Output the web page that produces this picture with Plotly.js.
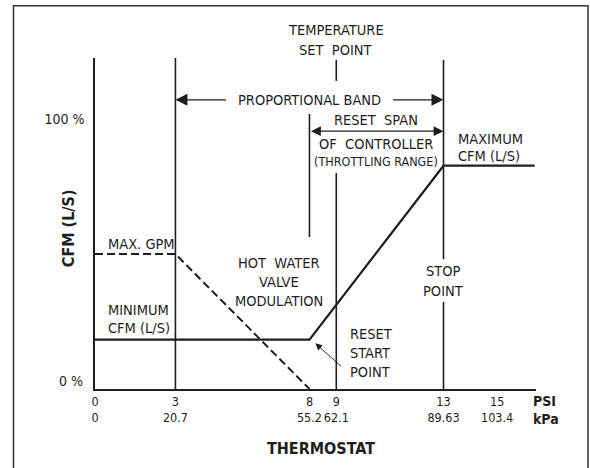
<!DOCTYPE html>
<html>
<head>
<meta charset="utf-8">
<script src="https://cdn.plot.ly/plotly-3.0.1.min.js"></script>
<style>html,body{margin:0;padding:0;background:#fff;}#chart{width:590px;height:468px;}</style>
</head>
<body>
<div id="chart"></div>
<script>
// ---- data (PSI on x, % CFM on y) ----
const psiTicks = [0, 3, 8, 9, 13, 15];
const kpaTicks = ['0', '20.7', '55.2', '62.1', '89.63', '103.4'];
const yTicks = [100];
const yTickText = ['100 %'];

// airflow (CFM) schedule
const cfmX = [0, 8, 13, 16.4];
const cfmY = [18.3, 18.3, 82.7, 82.7];
// hot water valve (GPM) schedule
const gpmX = [0, 3, 8];
const gpmY = [50, 50, 0];

// reference lines
const line3X = [3, 3];       const line3Y = [0, 122.6];
const line13X = [13, 13, null, 13, 13]; const line13Y = [0, 32.3, null, 48.1, 121.9];
const line9X = [9, 9, null, 9, 9];      const line9Y = [0, 80, null, 114.1, 121.9];
const line8X = [8, 8];       const line8Y = [56.3, 101.9];

// band limits
const propBand = [3, 13];
const resetSpan = [8, 13];

const INK = '#1e1e1e';
const FONT = '"DejaVu Sans Condensed", "Liberation Sans", Arial, sans-serif';
const XMAX = 16.45, YMAX = 122.6;

const traces = [
  {x: line3X, y: line3Y, mode: 'lines', line: {color: INK, width: 1.6}, hoverinfo: 'skip'},
  {x: line13X, y: line13Y, mode: 'lines', line: {color: INK, width: 1.6}, hoverinfo: 'skip'},
  {x: line9X, y: line9Y, mode: 'lines', line: {color: INK, width: 1.6}, hoverinfo: 'skip'},
  {x: line8X, y: line8Y, mode: 'lines', line: {color: INK, width: 1.6}, hoverinfo: 'skip'},
  {x: gpmX, y: gpmY, mode: 'lines', name: 'GPM', line: {color: INK, width: 2, dash: '8px,4px'}},
  {x: cfmX, y: cfmY, mode: 'lines', name: 'CFM', line: {color: INK, width: 2.2}}
];

function txt(text, x, y, opts) {
  return Object.assign({text: text, x: x, y: y, xref: 'x', yref: 'y', showarrow: false,
    xanchor: 'center', yanchor: 'middle', font: {family: FONT, size: 14.5, color: INK}}, opts || {});
}
const NB = '\u00a0';
const bold = {family: FONT, size: 16, color: INK, weight: 'bold'};

const annotations = [
  txt('TEMPERATURE', 9 / XMAX, 1.0846, {xref: 'paper', yref: 'paper'}),
  txt('SET' + NB + ' POINT', 9 / XMAX, 1.0242, {xref: 'paper', yref: 'paper'}),
  txt('PROPORTIONAL BAND', (propBand[0] + propBand[1]) / 2, 107.1),
  txt('RESET' + NB + ' SPAN', 10.5, 99.6),
  txt('OF' + NB + ' CONTROLLER', 10.5, 90.7),
  txt('(THROTTLING RANGE)', 10.5, 84.2, {font: {family: FONT, size: 12.5, color: INK}}),
  txt('MAXIMUM', 13.45, 92.5, {xanchor: 'left'}),
  txt('CFM (L/S)', 13.45, 86.3, {xanchor: 'left'}),
  txt('MAX. GPM', 0.4, 53.7, {xanchor: 'left'}),
  txt('MINIMUM', 0.4, 29.3, {xanchor: 'left'}),
  txt('CFM (L/S)', 0.4, 22.7, {xanchor: 'left'}),
  txt('HOT' + NB + ' WATER', 6.88, 46.6),
  txt('VALVE', 6.88, 39.5),
  txt('MODULATION', 6.88, 32.6),
  txt('STOP', 13, 43.8),
  txt('POINT', 13, 36.4),
  txt('RESET', 9.45, 20.4, {xanchor: 'left'}),
  txt('START', 9.45, 13.4, {xanchor: 'left'}),
  txt('POINT', 9.45, 6.4, {xanchor: 'left'}),
  txt('0 %', 0, 0, {xref: 'paper', xanchor: 'right', xshift: -10, yshift: 8, font: {family: FONT, size: 14, color: INK}}),
  txt('PSI<br>kPa', 0.988, -0.062, {xref: 'paper', yref: 'paper', xanchor: 'left', align: 'left',
      font: {family: FONT, size: 14, color: INK, weight: 'bold'}}),
  txt('THERMOSTAT', 0.5125, -0.179, {xref: 'paper', yref: 'paper', font: bold}),
  txt('CFM (L/S)', -0.0612, 0.486, {xref: 'paper', yref: 'paper', textangle: -90, font: bold}),
  // proportional band arrows
  {x: propBand[0], y: 107.1, ax: 4.94, ay: 107.1, xref: 'x', yref: 'y', axref: 'x', ayref: 'y',
   text: '', showarrow: true, arrowhead: 2, arrowsize: 2, arrowwidth: 1.2, arrowcolor: INK},
  {x: propBand[1], y: 107.1, ax: 11.06, ay: 107.1, xref: 'x', yref: 'y', axref: 'x', ayref: 'y',
   text: '', showarrow: true, arrowhead: 2, arrowsize: 2, arrowwidth: 1.2, arrowcolor: INK},
  // reset span double arrow
  {x: resetSpan[1], y: 95.5, ax: resetSpan[0], ay: 95.5, xref: 'x', yref: 'y', axref: 'x', ayref: 'y',
   text: '', showarrow: true, arrowside: 'end+start', arrowhead: 2, startarrowhead: 2,
   arrowsize: 1.8, startarrowsize: 1.8, arrowwidth: 1.1, arrowcolor: INK},
  // reset start point pointer
  {x: 8.22, y: 16.9, ax: 9.24, ay: 7.9, xref: 'x', yref: 'y', axref: 'x', ayref: 'y',
   text: '', showarrow: true, arrowhead: 2, arrowsize: 1.5, arrowwidth: 0.9, arrowcolor: INK}
];

const layout = {
  width: 590, height: 468,
  margin: {l: 95, r: 54, t: 58, b: 79},
  paper_bgcolor: '#fff', plot_bgcolor: '#fff',
  showlegend: false,
  font: {family: FONT, size: 14, color: INK},
  xaxis: {
    range: [0, XMAX], showgrid: false, zeroline: false,
    showline: true, linecolor: INK, linewidth: 2,
    tickmode: 'array', tickvals: psiTicks, tickangle: 0,
    ticktext: psiTicks.map((p, i) => p + '<br>' + kpaTicks[i]),
    ticks: '', tickfont: {family: FONT, size: 12.5, color: INK}
  },
  yaxis: {
    range: [0, YMAX], showgrid: false, zeroline: false,
    showline: true, linecolor: INK, linewidth: 1.6,
    tickmode: 'array', tickvals: yTicks, ticktext: yTickText,
    ticks: '', ticklabelstandoff: 6, tickfont: {family: FONT, size: 14, color: INK}
  },
  annotations: annotations,
  shapes: [{type: 'rect', xref: 'paper', yref: 'paper', x0: -0.1848, x1: 1.1179, y0: -0.26, y1: 1.158,
            line: {color: '#333', width: 1.5}, fillcolor: 'rgba(0,0,0,0)'}]
};

Plotly.newPlot('chart', traces, layout, {displayModeBar: false, staticPlot: true});
</script>
</body>
</html>
